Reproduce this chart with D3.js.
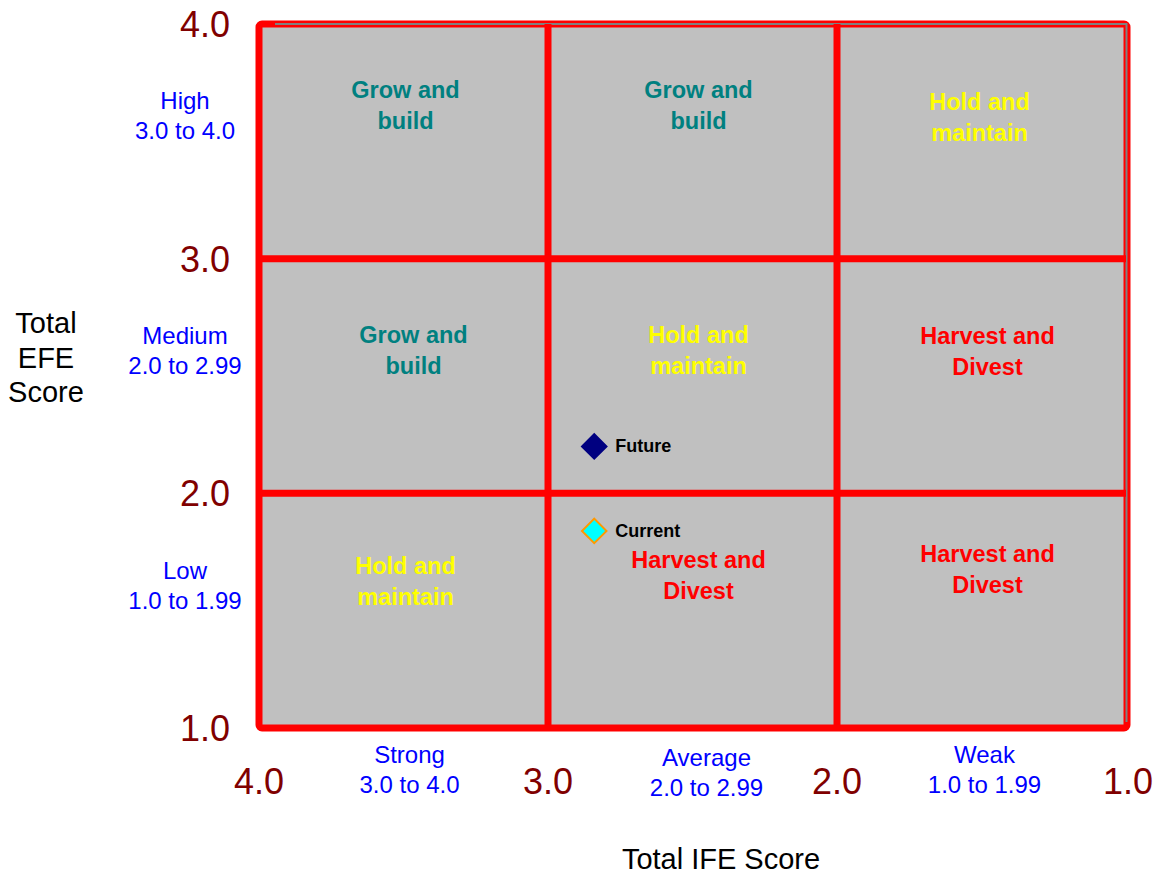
<!DOCTYPE html>
<html>
<head>
<meta charset="utf-8">
<script src="https://cdn.jsdelivr.net/npm/d3@7"></script>
<style>
  html, body { margin: 0; padding: 0; background: #fff; }
  svg { display: block; font-family: Arial, "Liberation Sans", sans-serif; }
</style>
</head>
<body>
<svg id="chart" width="1159" height="876"></svg>
<script>
// IE matrix: IFE score on x (4.0 on the left), EFE score on y
const ifeTicks = [4.0, 3.0, 2.0, 1.0];
const efeTicks = [4.0, 3.0, 2.0, 1.0];
const ifeBands = [
  { name: "Strong", range: "3.0 to 4.0", lo: 3, hi: 4 },
  { name: "Average", range: "2.0 to 2.99", lo: 2, hi: 3 },
  { name: "Weak", range: "1.0 to 1.99", lo: 1, hi: 2 }
];
const efeBands = [
  { name: "High", range: "3.0 to 4.0", lo: 3, hi: 4 },
  { name: "Medium", range: "2.0 to 2.99", lo: 2, hi: 3 },
  { name: "Low", range: "1.0 to 1.99", lo: 1, hi: 2 }
];
// strategy per cell, rows = EFE band (High..Low), cols = IFE band (Strong..Weak)
const strategies = [
  ["grow", "grow", "hold"],
  ["grow", "hold", "harvest"],
  ["hold", "harvest", "harvest"]
];
const strategyText = {
  grow: ["Grow and", "build"],
  hold: ["Hold and", "maintain"],
  harvest: ["Harvest and", "Divest"]
};
const strategyColor = { grow: "#008080", hold: "#FFFF00", harvest: "#FF0000" };
// company positions
const points = [
  { label: "Future", ife: 2.84, efe: 2.20 },
  { label: "Current", ife: 2.84, efe: 1.84 }
];

// layout tweaks for the in-cell captions (offset from cell centre / cell top)
const cellNudge = [
  [{ dx: 2, top: 74 }, { dx: 6, top: 74 }, { dx: -2, top: 86 }],
  [{ dx: 10, top: 84 }, { dx: 6, top: 84 }, { dx: 6, top: 85 }],
  [{ dx: 2, top: 81 }, { dx: 6, top: 75 }, { dx: 6, top: 69 }]
];

const svg = d3.select("#chart");
const x = d3.scaleLinear().domain([4, 1]).range([259, 1126]);
const y = d3.scaleLinear().domain([1, 4]).range([728, 24]);

const RED = "#FF0000";
const DARKRED = "#800000";
const BLUE = "#0000FF";

// background of the matrix
svg.append("rect")
  .attr("x", x(4)).attr("y", y(4))
  .attr("width", x(1) - x(4)).attr("height", y(1) - y(4))
  .attr("fill", "#C0C0C0");

// outer frame
svg.append("rect")
  .attr("x", x(4)).attr("y", y(4))
  .attr("width", x(1) - x(4) + 1).attr("height", y(1) - y(4))
  .attr("rx", 3).attr("ry", 3)
  .attr("fill", "none").attr("stroke", RED).attr("stroke-width", 7);

// thin grey rule inside the top and right edges
svg.append("path")
  .attr("d", `M${x(4) + 16},${y(4)} H${x(1) + 0.5} V${y(1) - 6}`)
  .attr("fill", "none").attr("stroke", "#808080").attr("stroke-width", 2);

// inner grid lines
const inner = [3, 2];
svg.selectAll("line.v").data(inner).join("line")
  .attr("class", "v")
  .attr("x1", d => x(d)).attr("x2", d => x(d))
  .attr("y1", y(4)).attr("y2", y(1))
  .attr("stroke", RED).attr("stroke-width", 7);
svg.selectAll("line.h").data(inner).join("line")
  .attr("class", "h")
  .attr("x1", x(4)).attr("x2", x(1))
  .attr("y1", d => y(d)).attr("y2", d => y(d))
  .attr("stroke", RED).attr("stroke-width", 7);

// strategy captions
const cells = [];
efeBands.forEach((eb, r) => {
  ifeBands.forEach((ib, c) => {
    cells.push({ r, c, eb, ib, key: strategies[r][c] });
  });
});
const cellText = svg.selectAll("text.cell").data(cells).join("text")
  .attr("class", "cell")
  .attr("text-anchor", "middle")
  .attr("font-weight", "bold")
  .attr("font-size", 23.5)
  .attr("fill", d => strategyColor[d.key])
  .attr("x", d => (x(d.ib.lo) + x(d.ib.hi)) / 2 + cellNudge[d.r][d.c].dx)
  .attr("y", d => y(d.eb.hi) + cellNudge[d.r][d.c].top);
cellText.selectAll("tspan").data(d => strategyText[d.key]).join("tspan")
  .attr("x", function () { return d3.select(this.parentNode).attr("x"); })
  .attr("dy", (d, i) => i === 0 ? 0 : 31)
  .text(d => d);

// y tick labels
svg.selectAll("text.ytick").data(efeTicks).join("text")
  .attr("class", "ytick")
  .attr("text-anchor", "end")
  .attr("font-size", 36)
  .attr("fill", DARKRED)
  .attr("x", 230)
  .attr("y", d => y(d) + 13)
  .text(d => d.toFixed(1));

// x tick labels
svg.selectAll("text.xtick").data(ifeTicks).join("text")
  .attr("class", "xtick")
  .attr("text-anchor", "middle")
  .attr("font-size", 36)
  .attr("fill", DARKRED)
  .attr("x", d => x(d) + (d === 1 ? 2 : 0))
  .attr("y", 794)
  .text(d => d.toFixed(1));

// EFE band labels
const yBand = svg.selectAll("text.yband").data(efeBands).join("text")
  .attr("class", "yband")
  .attr("text-anchor", "middle")
  .attr("font-size", 24)
  .attr("fill", BLUE)
  .attr("x", 185)
  .attr("y", d => (y(d.lo) + y(d.hi)) / 2 - 32);
yBand.selectAll("tspan").data(d => [d.name, d.range]).join("tspan")
  .attr("x", 185)
  .attr("dy", (d, i) => i === 0 ? 0 : 30)
  .text(d => d);

// IFE band labels
const xBandNudge = [{ dx: 6, y: 763 }, { dx: 14, y: 766 }, { dx: 3, y: 763 }];
const xBand = svg.selectAll("text.xband").data(ifeBands).join("text")
  .attr("class", "xband")
  .attr("text-anchor", "middle")
  .attr("font-size", 24)
  .attr("fill", BLUE)
  .attr("x", (d, i) => (x(d.lo) + x(d.hi)) / 2 + xBandNudge[i].dx)
  .attr("y", (d, i) => xBandNudge[i].y);
xBand.selectAll("tspan").data(d => [d.name, d.range]).join("tspan")
  .attr("x", function () { return d3.select(this.parentNode).attr("x"); })
  .attr("dy", (d, i) => i === 0 ? 0 : 30)
  .text(d => d);

// axis titles
const efeTitle = svg.append("text")
  .attr("text-anchor", "middle")
  .attr("font-size", 29)
  .attr("fill", "#000")
  .attr("x", 46).attr("y", 333);
efeTitle.selectAll("tspan").data(["Total", "EFE", "Score"]).join("tspan")
  .attr("x", 46)
  .attr("dy", (d, i) => i === 0 ? 0 : 34.5)
  .text(d => d);

svg.append("text")
  .attr("text-anchor", "middle")
  .attr("font-size", 29)
  .attr("fill", "#000")
  .attr("x", 721).attr("y", 869)
  .text("Total IFE Score");

// company position markers
const diamond = d3.symbol().type(d3.symbolSquare).size(300);
const marks = svg.selectAll("g.pt").data(points).join("g")
  .attr("class", "pt")
  .attr("transform", d => `translate(${x(d.ife)},${y(d.efe)})`);
marks.append("path")
  .attr("d", diamond)
  .attr("transform", "rotate(45)")
  .attr("fill", d => d.label === "Future" ? "#000080" : "#00FFFF")
  .attr("stroke", d => d.label === "Future" ? "#000080" : "#FF9900")
  .attr("stroke-width", 2);
marks.append("text")
  .attr("x", 21).attr("y", 6)
  .attr("font-size", 18)
  .attr("font-weight", "bold")
  .attr("fill", "#000")
  .text(d => d.label);
</script>
</body>
</html>
